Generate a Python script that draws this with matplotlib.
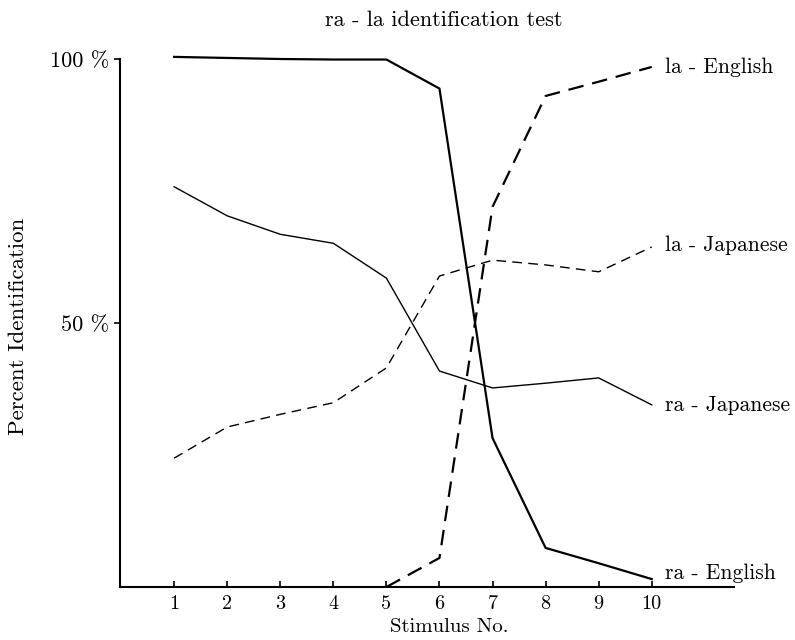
import matplotlib
matplotlib.use("Agg")
import matplotlib.pyplot as plt

plt.rcParams['font.family'] = ['cmr10', 'DejaVu Serif']
plt.rcParams['axes.formatter.use_mathtext'] = True

stimulus = [1, 2, 3, 4, 5, 6, 7, 8, 9, 10]
ra_english = [100.4, 100.2, 100.0, 99.9, 99.9, 94.4, 28.2, 7.4, 4.5, 1.5]
ra_japanese = [75.8, 70.3, 66.8, 65.1, 58.5, 40.9, 37.7, 38.6, 39.6, 34.5]
la_japanese = [24.4, 30.3, 32.7, 34.9, 41.5, 58.9, 61.9, 61.0, 59.7, 64.4]
la_english_x = [5, 6, 7, 8, 9, 10]
la_english = [0.0, 5.5, 72.0, 93.0, 95.7, 98.5]
series_labels = ['la - English', 'la - Japanese', 'ra - Japanese', 'ra - English']
y_ticks = [50, 100]
y_tick_labels = ['50 %', '100 %']

fig = plt.figure(figsize=(7.95, 6.4), dpi=100)
ax = fig.add_axes([120/795, 53/640, (734-120)/795, (587-59)/640])

ax.plot(stimulus, ra_english, color='black', lw=1.6, clip_on=False)
ax.plot(stimulus, ra_japanese, color='black', lw=1.0, clip_on=False)
ax.plot(stimulus, la_japanese, color='black', lw=1.0, dashes=(7, 4.5), clip_on=False)
ax.plot(la_english_x, la_english, color='black', lw=1.6, dashes=(7, 4), clip_on=False)

ax.set_xlim(-0.02, 11.55)
ax.set_ylim(0, 100)
for s in ['top', 'right']:
    ax.spines[s].set_visible(False)
ax.spines['left'].set_linewidth(1.5)
ax.spines['bottom'].set_linewidth(1.5)

ax.set_xticks(stimulus)
ax.set_xticklabels([str(s) for s in stimulus], fontsize=14.5)
ax.tick_params(axis='x', direction='in', length=4, width=1.2, pad=6)
ax.set_yticks(y_ticks)
ax.set_yticklabels(y_tick_labels, fontsize=16)
ax.tick_params(axis='y', direction='out', length=4, width=1.2, pad=4)

fig.text(449/795, 1 - 627/640, 'Stimulus No.', ha='center', va='center', fontsize=15)
fig.text(18/795, 1 - 326/640, 'Percent Identification', ha='center', va='center',
         rotation=90, fontsize=16.5)
fig.text(444/795, 1 - 20/640, 'ra - la identification test', ha='center', va='center', fontsize=16)

label_y = [98.5, 64.8, 34.5, 2.6]
for txt, yy in zip(series_labels, label_y):
    ax.text(10.25, yy, txt, fontsize=15.5, va='center', ha='left')

fig.savefig('out.png', dpi=100)
